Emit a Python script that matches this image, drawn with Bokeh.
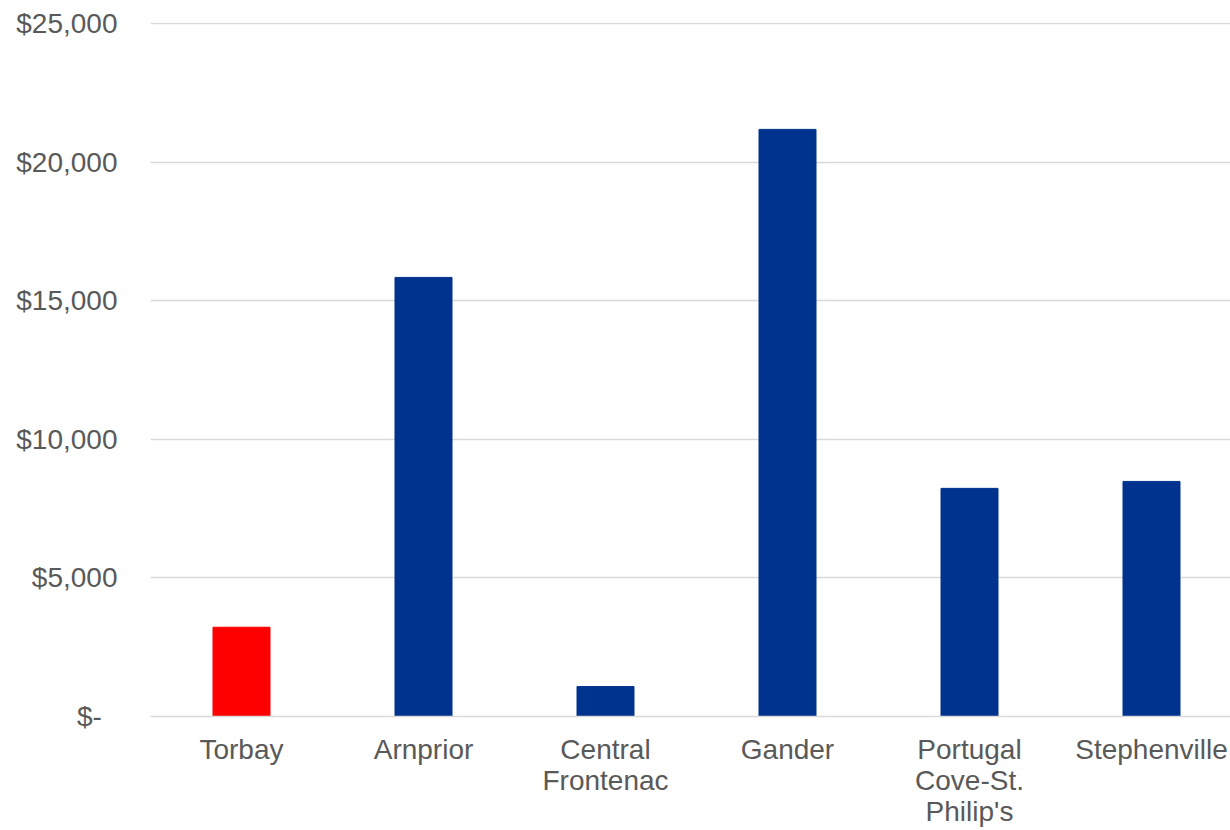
from bokeh.plotting import figure
from bokeh.models import Range1d, FixedTicker, ColumnDataSource
from bokeh.embed import file_html
from bokeh.resources import INLINE

categories = ["Torbay", "Arnprior", "Central\nFrontenac", "Gander",
              "Portugal\nCove-St.\nPhilip's", "Stephenville"]
values = [3220, 15840, 1080, 21180, 8230, 8480]
highlight = "Torbay"
y_ticks = [0, 5000, 10000, 15000, 20000, 25000]
y_tick_labels = ["$-\u00a0\u00a0", "$5,000", "$10,000", "$15,000", "$20,000", "$25,000"]

BLUE = "#00338D"
RED = "#FF0000"
TXT = "#595959"
GRID = "#D9D9D9"

xs = [i + 0.5 for i in range(len(categories))]
colors = [RED if c == highlight else BLUE for c in categories]
src = ColumnDataSource(dict(x=xs, top=values, color=colors))

p = figure(frame_width=1080, frame_height=694, output_backend="svg",
           toolbar_location=None, x_range=Range1d(0, 1080 / 182),
           y_range=Range1d(0, 25000 * 694 / 693))
p.min_border_left = 150
p.min_border_top = 22
p.min_border_right = 0
p.min_border_bottom = 5
p.outline_line_color = None
p.background_fill_color = "white"
p.border_fill_color = "white"

p.vbar(x="x", top="top", width=57 / 182, color="color", source=src)

p.xgrid.grid_line_color = None
p.ygrid.ticker = FixedTicker(ticks=y_ticks)
p.ygrid.grid_line_color = GRID
p.ygrid.grid_line_width = 1.5

p.yaxis.ticker = FixedTicker(ticks=y_ticks)
p.yaxis.major_label_overrides = {t: l for t, l in zip(y_ticks, y_tick_labels)}
p.yaxis.axis_line_color = None
p.yaxis.major_tick_line_color = None
p.yaxis.minor_tick_line_color = None
p.yaxis.major_label_standoff = 27
p.yaxis.major_label_text_font = "Liberation Sans"
p.yaxis.major_label_text_font_size = "28px"
p.yaxis.major_label_text_color = TXT

p.xaxis.ticker = FixedTicker(ticks=xs)
p.xaxis.major_label_overrides = {x: c for x, c in zip(xs, categories)}
p.xaxis.axis_line_color = GRID
p.xaxis.axis_line_width = 1.5
p.xaxis.major_tick_line_color = None
p.xaxis.minor_tick_line_color = None
p.xaxis.major_label_standoff = 11
p.xaxis.major_label_text_font = "Liberation Sans"
p.xaxis.major_label_text_font_size = "28px"
p.xaxis.major_label_text_color = TXT
p.xaxis.major_label_text_line_height = 1.0

open("out.html", "w").write(file_html(p, INLINE))
